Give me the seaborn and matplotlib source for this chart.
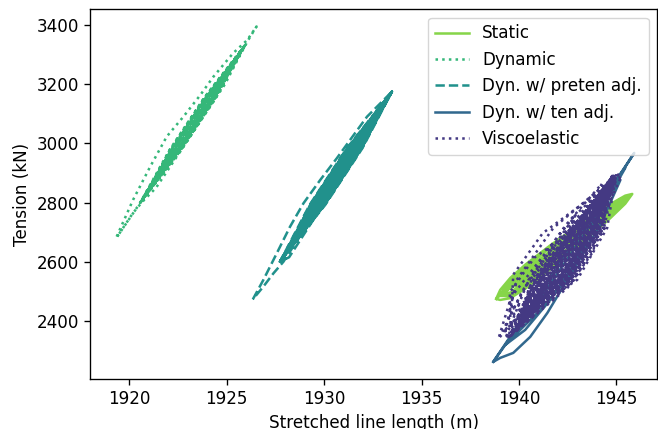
import matplotlib
matplotlib.use("Agg")
import matplotlib.pyplot as plt
import pandas as pd
import seaborn as sns

S = 1.21  # scale from 100 dpi reference look
plt.rcParams.update({
    "font.size": 10 * S,
    "axes.linewidth": 0.8 * S,
    "xtick.major.size": 3.5 * S, "ytick.major.size": 3.5 * S,
    "xtick.major.width": 0.8 * S, "ytick.major.width": 0.8 * S,
    "lines.linewidth": 1.5 * S,
})

names = ["Static", "Dynamic", "Dyn. w/ preten adj.", "Dyn. w/ ten adj.", "Viscoelastic"]
colors = ["#86d549", "#35b779", "#21918c", "#31688e", "#443983"]

# ---- Static (nested lens loops) ----
static_length = [
    1938.83, 1939.04, 1939.56, 1940.33, 1941.61, 1943.15, 1944.69, 1945.46, 1945.82,
    1945.46, 1944.69, 1943.15, 1941.61, 1940.33, 1939.56, 1939.04, 1938.83,
    1938.99, 1939.56, 1940.33, 1941.61, 1943.15, 1944.69, 1945.67,
    1944.69, 1943.15, 1941.61, 1940.33, 1939.56, 1938.99,
    1939.14, 1939.56, 1940.33, 1941.61, 1943.15, 1944.69, 1945.61,
    1944.69, 1943.15, 1941.61, 1940.33, 1939.56, 1939.14,
    1939.24, 1939.56, 1940.33, 1941.61, 1943.15, 1944.69, 1945.51,
    1944.69, 1943.15, 1941.61, 1940.33, 1939.56, 1939.24,
    1939.19, 1940.07, 1942.12, 1944.18, 1945.31, 1944.18, 1942.12, 1940.07, 1939.19,
    1939.35, 1940.07, 1942.12, 1944.18, 1945.21, 1944.18, 1942.12, 1940.07, 1939.35,
]
static_tension = [
    2474.3, 2504.7, 2545.3, 2590.2, 2655.4, 2726.6, 2794.5, 2823.3, 2829.0,
    2796.2, 2747.3, 2659.1, 2574.3, 2509.1, 2477.0, 2470.9, 2474.3,
    2484.5, 2537.7, 2581.8, 2647.0, 2719.9, 2789.5, 2822.3,
    2752.3, 2665.8, 2582.7, 2517.6, 2483.8, 2484.5,
    2491.2, 2532.8, 2571.6, 2635.1, 2709.8, 2782.7, 2815.5,
    2759.0, 2674.3, 2592.9, 2527.7, 2488.8, 2491.2,
    2494.6, 2526.0, 2564.8, 2630.0, 2704.7, 2779.3, 2812.1,
    2762.5, 2677.7, 2599.6, 2534.4, 2495.6, 2494.6,
    2498.0, 2545.3, 2649.3, 2753.3, 2802.0, 2744.9, 2640.9, 2528.4, 2498.0,
    2501.3, 2541.7, 2644.6, 2747.6, 2812.1, 2742.2, 2638.1, 2536.1, 2501.3,
]

# ---- Dynamic: first transient loop, then settled cycles ----
dynamic_length = [
    1919.35, 1920.19, 1921.06, 1921.92, 1922.76, 1923.64, 1924.30, 1925.33, 1926.05, 1926.53,
    1926.10, 1925.69, 1924.91, 1922.89, 1921.37, 1920.66, 1920.19, 1919.37,
    1920.55, 1922.05, 1923.84, 1925.94, 1924.44, 1922.65,
    1920.66, 1922.25, 1924.04, 1925.78, 1924.24, 1922.45,
    1920.77, 1922.13, 1923.92, 1925.62, 1924.36, 1922.57,
    1920.87, 1922.31, 1924.10, 1925.40, 1924.18, 1922.39,
    1921.09, 1922.09, 1923.88, 1925.94, 1924.40, 1922.61,
    1920.55, 1922.21, 1924.00, 1925.78, 1924.28, 1922.49,
    1920.66, 1922.17, 1923.96, 1925.62, 1924.32, 1922.53,
    1920.77, 1922.27, 1924.06, 1925.94, 1924.22, 1922.43,
    1920.87, 1922.07, 1923.86, 1925.78, 1924.42, 1922.63,
    1920.55, 1922.33, 1924.12, 1925.40, 1924.16, 1922.37,
    1920.66, 1922.15, 1923.94, 1925.94, 1924.34, 1922.55,
    1920.77, 1922.23, 1924.02, 1925.62, 1924.26, 1922.47,
    1920.55, 1922.11, 1923.90, 1925.78, 1924.38, 1922.59,
    1920.87, 1922.29, 1924.08, 1925.94, 1924.20, 1922.41,
    1920.66, 1922.19, 1923.98, 1925.40, 1924.30, 1922.51,
    1921.09, 1922.24, 1924.03, 1925.78, 1924.25, 1922.46,
    1920.60,
]
dynamic_tension = [
    2685.0, 2809.0, 2920.0, 3023.0, 3089.0, 3163.0, 3224.0, 3305.0, 3349.0, 3395.0,
    3349.0, 3299.0, 3200.0, 3000.0, 2850.0, 2802.0, 2765.0, 2684.0,
    2798.6, 2976.4, 3154.2, 3332.0, 3154.2, 2976.4,
    2809.3, 2976.4, 3154.2, 3316.0, 3154.2, 2976.4,
    2819.9, 2976.4, 3154.2, 3300.0, 3154.2, 2976.4,
    2830.6, 2976.4, 3154.2, 3278.7, 3154.2, 2976.4,
    2851.9, 2976.4, 3154.2, 3332.0, 3154.2, 2976.4,
    2798.6, 2976.4, 3154.2, 3316.0, 3154.2, 2976.4,
    2809.3, 2976.4, 3154.2, 3300.0, 3154.2, 2976.4,
    2819.9, 2976.4, 3154.2, 3332.0, 3154.2, 2976.4,
    2830.6, 2976.4, 3154.2, 3316.0, 3154.2, 2976.4,
    2798.6, 2976.4, 3154.2, 3278.7, 3154.2, 2976.4,
    2809.3, 2976.4, 3154.2, 3332.0, 3154.2, 2976.4,
    2819.9, 2976.4, 3154.2, 3300.0, 3154.2, 2976.4,
    2798.6, 2976.4, 3154.2, 3316.0, 3154.2, 2976.4,
    2830.6, 2976.4, 3154.2, 3332.0, 3154.2, 2976.4,
    2809.3, 2976.4, 3154.2, 3278.7, 3154.2, 2976.4,
    2851.9, 2976.4, 3154.2, 3316.0, 3154.2, 2976.4,
    2805.0,
]

# ---- Dynamic with pretension adjustment ----
preten_length = [
    1926.34, 1926.88, 1927.57, 1928.25, 1928.94, 1929.80, 1930.65, 1932.20, 1933.48,
    1931.33, 1929.43, 1928.20,
    1927.73, 1929.25, 1931.16, 1933.48, 1931.96, 1930.05,
    1927.845, 1929.52, 1931.43, 1933.31, 1931.69, 1929.78,
    1927.96, 1929.36, 1931.27, 1933.14, 1931.85, 1929.94,
    1928.075, 1929.60, 1931.51, 1932.905, 1931.61, 1929.70,
    1928.305, 1929.30, 1931.21, 1933.48, 1931.91, 1930.00,
    1927.73, 1929.46, 1931.37, 1933.31, 1931.75, 1929.84,
    1927.845, 1929.41, 1931.32, 1933.14, 1931.80, 1929.89,
    1927.96, 1929.54, 1931.45, 1933.48, 1931.67, 1929.76,
    1928.075, 1929.28, 1931.19, 1933.31, 1931.93, 1930.02,
    1927.73, 1929.62, 1931.53, 1932.905, 1931.59, 1929.68,
    1927.845, 1929.38, 1931.29, 1933.48, 1931.83, 1929.92,
    1927.96, 1929.49, 1931.40, 1933.14, 1931.72, 1929.81,
    1927.73, 1929.33, 1931.24, 1933.31, 1931.88, 1929.97,
    1928.075, 1929.57, 1931.48, 1933.48, 1931.64, 1929.73,
    1927.845, 1929.44, 1931.35, 1932.905, 1931.77, 1929.86,
    1928.305, 1929.51, 1931.42, 1933.31, 1931.70, 1929.79,
    1927.91, 1927.40, 1926.88, 1926.34,
]
preten_tension = [
    2473.0, 2538.5, 2628.7, 2718.5, 2797.6, 2876.3, 2949.6, 3090.0, 3174.6,
    2930.0, 2740.0, 2615.0,
    2600.0, 2791.5, 2983.1, 3174.6, 2983.1, 2791.5,
    2611.5, 2791.5, 2983.1, 3157.4, 2983.1, 2791.5,
    2623.0, 2791.5, 2983.1, 3140.1, 2983.1, 2791.5,
    2634.5, 2791.5, 2983.1, 3117.1, 2983.1, 2791.5,
    2657.5, 2791.5, 2983.1, 3174.6, 2983.1, 2791.5,
    2600.0, 2791.5, 2983.1, 3157.4, 2983.1, 2791.5,
    2611.5, 2791.5, 2983.1, 3140.1, 2983.1, 2791.5,
    2623.0, 2791.5, 2983.1, 3174.6, 2983.1, 2791.5,
    2634.5, 2791.5, 2983.1, 3157.4, 2983.1, 2791.5,
    2600.0, 2791.5, 2983.1, 3117.1, 2983.1, 2791.5,
    2611.5, 2791.5, 2983.1, 3174.6, 2983.1, 2791.5,
    2623.0, 2791.5, 2983.1, 3140.1, 2983.1, 2791.5,
    2600.0, 2791.5, 2983.1, 3157.4, 2983.1, 2791.5,
    2634.5, 2791.5, 2983.1, 3174.6, 2983.1, 2791.5,
    2611.5, 2791.5, 2983.1, 3117.1, 2983.1, 2791.5,
    2657.5, 2791.5, 2983.1, 3157.4, 2983.1, 2791.5,
    2600.0, 2561.0, 2516.0, 2473.0,
]

# ---- Dynamic with tension adjustment ----
tenadj_length = [
    1938.68, 1940.58, 1942.64, 1944.69, 1945.92,
    1945.36, 1944.85, 1944.18, 1943.76, 1943.30, 1942.48, 1941.46, 1940.58, 1939.71, 1939.04, 1938.68,
    1939.30, 1942.12, 1945.46, 1944.18, 1942.89, 1941.61, 1940.32, 1939.30,
    1939.81, 1942.38, 1945.21, 1944.18, 1942.64, 1941.10, 1939.81,
]
tenadj_tension = [
    2261.5, 2447.3, 2646.6, 2845.9, 2967.5,
    2910.1, 2862.8, 2781.7, 2712.0, 2639.8, 2538.5, 2427.0, 2346.0, 2291.9, 2275.0, 2261.5,
    2318.9, 2595.9, 2916.8, 2768.2, 2599.3, 2470.9, 2369.6, 2318.9,
    2352.7, 2599.3, 2876.3, 2724.3, 2555.4, 2437.2, 2352.7,
]

# ---- Viscoelastic ----
visco_length = [
    1939.30, 1939.88, 1941.77, 1944.95, 1944.37, 1942.48,
    1939.84, 1941.03, 1942.72, 1944.93, 1943.74, 1942.05,
    1939.61, 1939.71, 1941.22, 1944.13, 1944.02, 1942.51,
    1939.15, 1940.20, 1941.70, 1943.67, 1942.62, 1941.12,
    1940.74, 1941.69, 1943.19, 1945.26, 1944.31, 1942.81,
    1940.26, 1941.30, 1942.75, 1944.61, 1943.57, 1942.12,
    1939.74, 1940.89, 1942.39, 1944.26, 1943.11, 1941.61,
    1939.57, 1939.53, 1940.80, 1943.36, 1943.40, 1942.13,
    1941.00, 1941.66, 1942.93, 1944.84, 1944.17, 1942.90,
    1940.02, 1941.30, 1942.85, 1944.65, 1943.37, 1941.82,
    1938.95, 1939.60, 1942.90, 1941.80, 1940.40,
    1940.18, 1940.50, 1941.82, 1944.14, 1943.82, 1942.50,
    1939.81, 1941.54, 1943.37, 1944.79, 1943.69, 1941.94,
    1940.00, 1941.24, 1943.13, 1944.60, 1943.93, 1942.24,
    1939.60, 1940.94, 1942.89, 1944.90, 1944.17, 1942.54,
    1940.20, 1940.64, 1942.65, 1944.40, 1944.41, 1942.84,
    1939.81, 1941.39, 1943.25, 1945.10, 1943.81, 1942.09,
    1940.00, 1941.09, 1943.01, 1944.79, 1944.05, 1942.39,
    1939.60, 1940.79, 1942.77, 1944.60, 1944.29, 1942.69,
    1940.40, 1941.64, 1943.45, 1944.20, 1943.61, 1941.84,
    1939.30, 1940.49, 1942.53, 1945.00, 1944.53, 1942.99,
    1940.20, 1941.19, 1943.09, 1944.40, 1943.97, 1942.29,
    1939.81, 1941.44, 1943.29, 1944.79, 1943.77, 1942.04,
    1940.00, 1940.99, 1942.93, 1944.90, 1944.13, 1942.49,
    1939.90, 1941.69, 1943.49, 1944.70, 1943.57, 1941.79,
    1940.10, 1941.59, 1943.41, 1944.85, 1943.65, 1941.89,
    1939.70, 1941.49, 1943.33, 1944.50, 1943.73, 1941.99,
    1940.30, 1941.34, 1943.21, 1945.00, 1943.85, 1942.14,
    1939.50, 1941.29, 1943.17, 1944.70, 1943.89, 1942.19,
    1940.10, 1941.14, 1943.05, 1944.30, 1944.01, 1942.34,
    1939.80, 1941.04, 1942.97, 1944.95, 1944.09, 1942.44,
    1939.40, 1940.89, 1942.85, 1944.60, 1944.21, 1942.59,
    1940.00, 1940.84, 1942.81, 1944.80, 1944.25, 1942.64,
    1939.60, 1940.74, 1942.73, 1944.45, 1944.33, 1942.74, 1939.60,
]
visco_tension = [
    2362.8, 2538.3, 2714.3, 2889.8, 2714.3, 2538.3,
    2389.2, 2547.3, 2705.4, 2863.5, 2705.4, 2547.3,
    2415.5, 2556.2, 2696.4, 2837.1, 2696.4, 2556.2,
    2362.8, 2503.5, 2643.7, 2784.4, 2643.7, 2503.5,
    2468.2, 2608.9, 2749.1, 2889.8, 2749.1, 2608.9,
    2405.0, 2540.4, 2675.3, 2810.8, 2675.3, 2540.4,
    2441.9, 2582.6, 2722.7, 2863.5, 2722.7, 2582.6,
    2378.6, 2496.1, 2614.2, 2731.7, 2614.2, 2496.1,
    2520.9, 2640.5, 2759.6, 2879.3, 2759.6, 2640.5,
    2415.5, 2559.4, 2703.8, 2847.6, 2703.8, 2559.4,
    2340.0, 2480.0, 2760.0, 2560.0, 2420.0,
    2389.2, 2512.0, 2635.3, 2758.1, 2635.3, 2512.0,
    2362.8, 2538.5, 2714.1, 2889.8, 2714.1, 2538.5,
    2390.0, 2538.5, 2714.1, 2870.0, 2714.1, 2538.5,
    2350.0, 2538.5, 2714.1, 2880.0, 2714.1, 2538.5,
    2420.0, 2538.5, 2714.1, 2850.0, 2714.1, 2538.5,
    2362.8, 2538.5, 2714.1, 2895.0, 2714.1, 2538.5,
    2390.0, 2538.5, 2714.1, 2889.8, 2714.1, 2538.5,
    2350.0, 2538.5, 2714.1, 2870.0, 2714.1, 2538.5,
    2440.0, 2538.5, 2714.1, 2830.0, 2714.1, 2538.5,
    2340.0, 2538.5, 2714.1, 2900.0, 2714.1, 2538.5,
    2420.0, 2538.5, 2714.1, 2850.0, 2714.1, 2538.5,
    2362.8, 2538.5, 2714.1, 2889.8, 2714.1, 2538.5,
    2390.0, 2538.5, 2714.1, 2880.0, 2714.1, 2538.5,
    2375.0, 2538.5, 2714.1, 2880.0, 2714.1, 2538.5,
    2400.0, 2538.5, 2714.1, 2885.0, 2714.1, 2538.5,
    2360.0, 2538.5, 2714.1, 2860.0, 2714.1, 2538.5,
    2430.0, 2538.5, 2714.1, 2890.0, 2714.1, 2538.5,
    2345.0, 2538.5, 2714.1, 2875.0, 2714.1, 2538.5,
    2405.0, 2538.5, 2714.1, 2845.0, 2714.1, 2538.5,
    2370.0, 2538.5, 2714.1, 2895.0, 2714.1, 2538.5,
    2345.0, 2538.5, 2714.1, 2865.0, 2714.1, 2538.5,
    2395.0, 2538.5, 2714.1, 2885.0, 2714.1, 2538.5,
    2360.0, 2538.5, 2714.1, 2855.0, 2714.1, 2538.5, 2360.0,
]

series = [
    (static_length, static_tension),
    (dynamic_length, dynamic_tension),
    (preten_length, preten_tension),
    (tenadj_length, tenadj_tension),
    (visco_length, visco_tension),
]

xcol, ycol = "Stretched line length (m)", "Tension (kN)"
df = pd.concat(
    [pd.DataFrame({xcol: L, ycol: T, "Model": n}) for n, (L, T) in zip(names, series)],
    ignore_index=True,
)

dashes = {
    "Static": "",
    "Dynamic": (1, 1.65),
    "Dyn. w/ preten adj.": (3.7, 1.6),
    "Dyn. w/ ten adj.": "",
    "Viscoelastic": (1, 1.65),
}

fig = plt.figure(figsize=(6.58, 4.29), dpi=100)
ax = fig.add_axes([0.1368, 0.1154, 0.8617, 0.8629])
sns.lineplot(
    data=df, x=xcol, y=ycol, hue="Model", style="Model",
    hue_order=names, style_order=names,
    palette=dict(zip(names, colors)), dashes=dashes,
    sort=False, estimator=None, legend=False, ax=ax,
    linewidth=1.5 * S,
)
ax.set_xlim(1917.98, 1947.09)
ax.set_ylim(2202, 3453)
ax.set_xticks([1920, 1925, 1930, 1935, 1940, 1945])
ax.set_yticks([2400, 2600, 2800, 3000, 3200, 3400])
ax.legend(handles=ax.get_lines()[:5], labels=names, loc="upper right")

fig.savefig("out.png", dpi=100)
